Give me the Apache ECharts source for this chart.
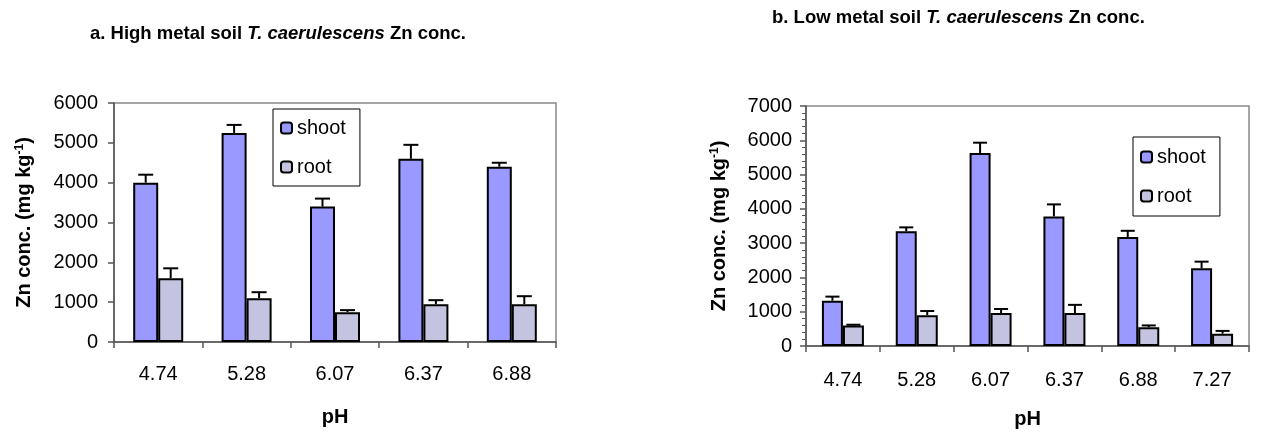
<!DOCTYPE html>
<html>
<head>
<meta charset="utf-8">
<script src="https://cdn.jsdelivr.net/npm/echarts@6/dist/echarts.min.js"></script>
<style>
html,body{margin:0;padding:0;background:#fff;}
#c{width:1262px;height:434px;}
</style>
</head>
<body>
<div id="c"></div>
<script>
// ---- Data ----
const categoriesA = ['4.74', '5.28', '6.07', '6.37', '6.88'];
const shootA = [4000, 5250, 3400, 4600, 4400];
const shootErrA = [200, 200, 200, 350, 100];
const rootA = [1600, 1100, 750, 950, 950];
const rootErrA = [250, 150, 50, 100, 200];

const categoriesB = ['4.74', '5.28', '6.07', '6.37', '6.88', '7.27'];
const shootB = [1320, 3350, 5630, 3780, 3180, 2270];
const shootErrB = [120, 110, 300, 350, 180, 190];
const rootB = [600, 900, 960, 960, 550, 360];
const rootErrB = [20, 120, 120, 240, 50, 80];

const yTicksA = {min: 0, max: 6000, interval: 1000};
const yTicksB = {min: 0, max: 7000, interval: 1000};

// ---- Styles ----
const FONT = '"Liberation Sans", Arial, sans-serif';
const SHOOT_COLOR = '#9999FF';
const ROOT_COLOR = '#C4C4E0';
const BW_A = 25, BW_B = 21;

function errData(vals, errs) {
  return vals.map((v, i) => [i, v, errs[i]]);
}
function errSeries(name, xi, yi, vals, errs, offset, capW) {
  return {
    type: 'custom', name: name + '_err', xAxisIndex: xi, yAxisIndex: yi,
    silent: true, z: 5,
    data: errData(vals, errs),
    renderItem: function (params, api) {
      const i = api.value(0);
      const p0 = api.coord([i, api.value(1)]);
      const p1 = api.coord([i, api.value(1) + api.value(2)]);
      const x = p0[0] + offset;
      return {
        type: 'group',
        children: [
          {type: 'line', shape: {x1: x, y1: p0[1], x2: x, y2: p1[1]}, style: {stroke: '#000', lineWidth: 2}},
          {type: 'line', shape: {x1: x - capW / 2, y1: p1[1], x2: x + capW / 2, y2: p1[1]}, style: {stroke: '#000', lineWidth: 2}}
        ]
      };
    }
  };
}

function barSeries(name, color, xi, yi, vals, bw) {
  return {
    type: 'bar', name: name, xAxisIndex: xi, yAxisIndex: yi,
    data: vals, barWidth: bw, barGap: '0%',
    itemStyle: {color: color, borderColor: '#000', borderWidth: 2},
    z: 2
  };
}

function xAxisCfg(gi, cats, margin, nameGap) {
  return {
    type: 'category', gridIndex: gi, data: cats,
    axisLine: {lineStyle: {color: '#555', width: 1.5}},
    axisTick: {show: true, length: 6, lineStyle: {color: '#555', width: 1.5}},
    axisLabel: {color: '#000', fontFamily: FONT, fontSize: 20, margin: margin},
    name: 'pH', nameLocation: 'middle', nameGap: nameGap,
    nameTextStyle: {color: '#000', fontFamily: FONT, fontSize: 20, fontWeight: 'bold'}
  };
}

function yAxisCfg(gi, t, margin, nameGap, minor) {
  return {
    type: 'value', gridIndex: gi, min: t.min, max: t.max, interval: t.interval,
    axisLine: {show: true, lineStyle: {color: '#555', width: 1.5}},
    axisTick: {show: true, length: 6, lineStyle: {color: '#555', width: 1.5}},
    minorTick: {show: minor, splitNumber: 5, length: 4, lineStyle: {color: '#555', width: 1}},
    splitLine: {show: false},
    axisLabel: {color: '#000', fontFamily: FONT, fontSize: 20, margin: margin,
                formatter: function (v) { return String(v); }},
    name: '{n|Zn conc. (mg kg}{s|-1}{n|)}', nameLocation: 'middle', nameGap: nameGap, nameRotate: 90,
    nameTextStyle: {
      color: '#000', fontFamily: FONT, fontSize: 20, fontWeight: 'bold',
      rich: {
        n: {fontFamily: FONT, fontSize: 20, fontWeight: 'bold', color: '#000'},
        s: {fontFamily: FONT, fontSize: 12, fontWeight: 'bold', color: '#000', verticalAlign: 'top', padding: [0, 0, 8, 0]}
      }
    }
  };
}

const titleRich = {
  i: {fontFamily: FONT, fontSize: 18.5, fontWeight: 'bold', fontStyle: 'italic', color: '#000'}
};

const option = {
  animation: false,
  backgroundColor: '#fff',
  textStyle: {fontFamily: FONT},
  title: [
    {text: 'a. High metal soil {i|T. caerulescens} Zn conc.', left: 85, top: 19,
     textStyle: {fontFamily: FONT, fontSize: 18.5, fontWeight: 'bold', color: '#000', rich: titleRich}},
    {text: 'b. Low metal soil {i|T. caerulescens} Zn conc.', left: 767, top: 3,
     textStyle: {fontFamily: FONT, fontSize: 18.5, fontWeight: 'bold', color: '#000', rich: titleRich}}
  ],
  legend: [
    {data: ['shoot', 'root'], orient: 'vertical', left: 273, top: 109, itemWidth: 11, itemHeight: 11,
     itemGap: 19, padding: [9, 14, 9, 7], borderColor: '#000', borderWidth: 1,
     textStyle: {fontFamily: FONT, fontSize: 20, color: '#000'}, selectedMode: false},
    {data: ['shoot', 'root'], orient: 'vertical', left: 1133, top: 137, itemWidth: 11, itemHeight: 11,
     itemGap: 19, padding: [10, 14, 10, 7], borderColor: '#000', borderWidth: 1,
     textStyle: {fontFamily: FONT, fontSize: 20, color: '#000'}, selectedMode: false}
  ],
  grid: [
    {left: 114, right: 706, top: 103, bottom: 92, show: true, borderColor: '#888', borderWidth: 1.5, backgroundColor: 'transparent'},
    {left: 806, right: 13, top: 106, bottom: 85, show: true, borderColor: '#888', borderWidth: 1.5, backgroundColor: 'transparent'}
  ],
  xAxis: [
    xAxisCfg(0, categoriesA, 22, 65),
    xAxisCfg(1, categoriesB, 24, 63)
  ],
  yAxis: [
    yAxisCfg(0, yTicksA, 16, 80, false),
    yAxisCfg(1, yTicksB, 14, 77, true)
  ],
  series: [
    barSeries('shoot', SHOOT_COLOR, 0, 0, shootA, BW_A),
    barSeries('root', ROOT_COLOR, 0, 0, rootA, BW_A),
    errSeries('shootA', 0, 0, shootA, shootErrA, -BW_A / 2, 15),
    errSeries('rootA', 0, 0, rootA, rootErrA, BW_A / 2, 15),
    barSeries('shoot', SHOOT_COLOR, 1, 1, shootB, BW_B),
    barSeries('root', ROOT_COLOR, 1, 1, rootB, BW_B),
    errSeries('shootB', 1, 1, shootB, shootErrB, -BW_B / 2, 14),
    errSeries('rootB', 1, 1, rootB, rootErrB, BW_B / 2, 14)
  ]
};

const chart = echarts.init(document.getElementById('c'), null, {renderer: 'canvas'});
chart.setOption(option);
</script>
</body>
</html>
